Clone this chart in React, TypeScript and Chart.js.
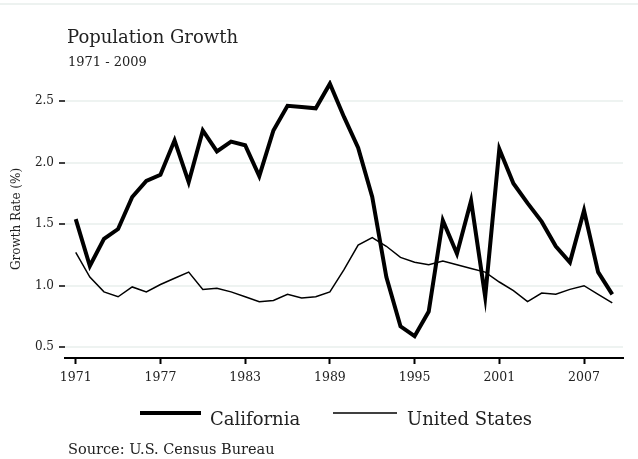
import React, { useEffect, useRef } from "react";
import { Chart, registerables } from "chart.js";

Chart.register(...registerables);

const years: number[] = [
  1971, 1972, 1973, 1974, 1975, 1976, 1977, 1978, 1979, 1980,
  1981, 1982, 1983, 1984, 1985, 1986, 1987, 1988, 1989, 1990,
  1991, 1992, 1993, 1994, 1995, 1996, 1997, 1998, 1999, 2000,
  2001, 2002, 2003, 2004, 2005, 2006, 2007, 2008, 2009,
];

const california: number[] = [
  1.54, 1.16, 1.38, 1.46, 1.72, 1.85, 1.9, 2.18, 1.84, 2.26,
  2.09, 2.17, 2.14, 1.89, 2.26, 2.46, 2.45, 2.44, 2.64, 2.37,
  2.12, 1.72, 1.07, 0.67, 0.59, 0.79, 1.53, 1.26, 1.69, 0.91,
  2.11, 1.83, 1.67, 1.52, 1.32, 1.19, 1.61, 1.11, 0.93,
];

const unitedStates: number[] = [
  1.27, 1.07, 0.95, 0.91, 0.99, 0.95, 1.01, 1.06, 1.11, 0.97,
  0.98, 0.95, 0.91, 0.87, 0.88, 0.93, 0.9, 0.91, 0.95, 1.13,
  1.33, 1.39, 1.32, 1.23, 1.19, 1.17, 1.2, 1.17, 1.14, 1.11,
  1.03, 0.96, 0.87, 0.94, 0.93, 0.97, 1.0, 0.93, 0.86,
];

const xTicks: number[] = [1971, 1977, 1983, 1989, 1995, 2001, 2007];
const yTicks: number[] = [0.5, 1.0, 1.5, 2.0, 2.5];

const seriesNames: string[] = ["California", "United States"];

const titleText = "Population Growth";
const subtitleText = "1971 - 2009";
const sourceText = "Source: U.S. Census Bureau";
const yAxisTitle = "Growth Rate (%)";

const FONT = "'DejaVu Serif', serif";
const TEXT = "#222";

const decorPlugin = {
  id: "decor",
  afterDraw(chart: any) {
    const ctx = chart.ctx as CanvasRenderingContext2D;
    ctx.save();
    // faint top rule
    ctx.fillStyle = "#edf2f0";
    ctx.fillRect(0, 3, chart.width, 2);

    ctx.fillStyle = TEXT;
    ctx.textBaseline = "alphabetic";
    ctx.textAlign = "left";
    ctx.font = `18px ${FONT}`;
    ctx.fillText(titleText, 67, 43);
    ctx.font = `13px ${FONT}`;
    ctx.fillText(subtitleText, 68, 65.5);

    // legend
    const ds = chart.data.datasets;
    const items = [
      { x0: 140, x1: 201, tx: 210, name: seriesNames[0], w: ds[0].borderWidth },
      { x0: 333, x1: 397, tx: 407, name: seriesNames[1], w: ds[1].borderWidth },
    ];
    for (const it of items) {
      ctx.strokeStyle = "#000";
      ctx.lineWidth = it.w;
      ctx.beginPath();
      ctx.moveTo(it.x0, 413);
      ctx.lineTo(it.x1, 413);
      ctx.stroke();
      ctx.font = `18px ${FONT}`;
      ctx.fillStyle = TEXT;
      ctx.fillText(it.name, it.tx, 425);
    }

    ctx.font = `14.5px ${FONT}`;
    ctx.fillText(sourceText, 68, 454);
    ctx.restore();
  },
};

function App() {
  const ref = useRef<HTMLCanvasElement | null>(null);

  useEffect(() => {
    if (!ref.current) return;
    const chart = new Chart(ref.current, {
      type: "line",
      data: {
        datasets: [
          {
            label: seriesNames[0],
            data: years.map((y, i) => ({ x: y, y: california[i] })),
            borderColor: "#000",
            borderWidth: 4,
            pointRadius: 0,
            tension: 0,
            fill: false,
          },
          {
            label: seriesNames[1],
            data: years.map((y, i) => ({ x: y, y: unitedStates[i] })),
            borderColor: "#000",
            borderWidth: 1.5,
            pointRadius: 0,
            tension: 0,
            fill: false,
          },
        ],
      },
      options: {
        animation: false,
        responsive: false,
        events: [],
        layout: { padding: { top: 80, right: 15, left: 0, bottom: 0 } },
        plugins: {
          legend: { display: false },
          title: { display: false },
          tooltip: { enabled: false },
        },
        scales: {
          x: {
            type: "linear",
            min: 1970.24,
            max: 2009.76,
            afterFit: (scale: any) => {
              scale.height = 101;
            },
            afterBuildTicks: (scale: any) => {
              scale.ticks = xTicks.map((v) => ({ value: v }));
            },
            ticks: {
              callback: (v: any) => String(v),
              font: { family: FONT, size: 12.5 },
              color: TEXT,
              padding: 6,
              maxRotation: 0,
              autoSkip: false,
            },
            grid: {
              drawOnChartArea: false,
              drawTicks: true,
              tickLength: 6,
              tickWidth: 2,
              tickColor: "#000",
            },
            border: { display: true, color: "#000", width: 2 },
          },
          y: {
            type: "linear",
            min: 0.413,
            max: 2.67,
            afterFit: (scale: any) => {
              scale.width = 65;
            },
            afterBuildTicks: (scale: any) => {
              scale.ticks = yTicks.map((v) => ({ value: v }));
            },
            ticks: {
              callback: (v: any) => Number(v).toFixed(1),
              font: { family: FONT, size: 12 },
              color: TEXT,
              padding: 5,
            },
            grid: {
              color: "#eef3f1",
              lineWidth: 2,
              tickLength: 6,
              tickWidth: 1.5,
              tickColor: "#000",
            },
            border: { display: false },
            title: {
              display: true,
              text: yAxisTitle,
              font: { family: FONT, size: 12 },
              color: TEXT,
              padding: { top: 10, bottom: 0 },
            },
          },
        },
      },
      plugins: [decorPlugin],
    } as any);
    return () => chart.destroy();
  }, []);

  return (
    <div style={{ position: "fixed", left: 0, top: 0, width: 638, height: 459, background: "#fff" }}>
      <canvas ref={ref} width={638} height={459} style={{ width: 638, height: 459, display: "block" }} />
    </div>
  );
}

export default App;
